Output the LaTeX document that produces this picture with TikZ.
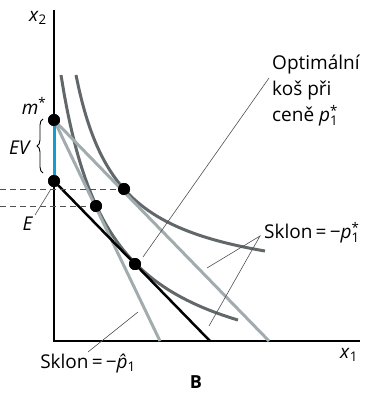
\documentclass[tikz,border=0pt]{standalone}
\usepackage{fontspec}
\setmainfont{Open Sans}
\usetikzlibrary{decorations.pathreplacing}
\definecolor{icdark}{RGB}{98,104,106}
\definecolor{bllight}{RGB}{162,172,174}
\definecolor{evblue}{RGB}{20,158,205}
\definecolor{leadgray}{RGB}{80,80,80}
\newcommand{\pstar}{\textit{p}\rlap{\textsuperscript{*}}\textsubscript{1}}
\newcommand{\phat}{\textit{\rlap{\hspace{0.06em}ˆ}p}\textsubscript{1}}
\begin{document}
\begin{tikzpicture}[x=1pt,y=-1pt,
  axisline/.style={line width=2pt,line join=miter},
  icurve/.style={draw=icdark,line width=3pt},
  budget/.style={draw=bllight,line width=3pt},
  blackbudget/.style={draw=black,line width=2.5pt},
  leader/.style={draw=leadgray,line width=0.6pt},
  guide/.style={draw=leadgray,line width=0.9pt,dash pattern=on 6pt off 4pt},
  dot/.style={circle,fill=black,inner sep=0pt,minimum size=12pt},
  lbl/.style={font=\fontsize{19}{26}\selectfont,inner sep=0pt},
]
\useasboundingbox (0,0) rectangle (367,396);
% axes
\coordinate (ytop) at (54,10);
\coordinate (O) at (54,341);
\coordinate (xend) at (360,341);
\draw[axisline] (ytop) -- (O) -- (xend);
% indifference curves
\draw[icurve,domain=61:238,samples=60,smooth] plot (\x,{388.3-15444/(\x-11.7)});
\draw[icurve,domain=76:265,samples=60,smooth] plot (\x,{291-9274/(\x-33.06)});
% dots
\node[dot] (dm) at (54,120) {};
\node[dot] (dE) at (54,181) {};
\node[dot] (dA) at (124,189) {};
\node[dot] (dB) at (96,206) {};
\node[dot] (dC) at (135,264) {};
% budget line ends
\coordinate (bShallow) at (269,341);
\coordinate (bSteep) at (160,341);
\coordinate (bBlack) at (210,341);
\draw[budget] (dm.center) -- (bShallow);
\draw[budget] (dm.center) -- (bSteep);
\draw[blackbudget] (dE.center) -- (bBlack);
\draw[evblue,line width=3pt] (dm.center) -- (dE.center);
% dashed guides
\coordinate (gA) at (0,189);
\coordinate (gB) at (0,206);
\draw[guide] (gA) -- (dA.center);
\draw[guide] (gB) -- (dB.center);
% dots on top
\foreach \p in {dm,dE,dA,dB,dC}
  \fill (\p.center) circle (6pt);
% brace
\coordinate (brB) at (43,173);
\coordinate (brT) at (43,119);
\draw[line width=0.9pt,decorate,decoration={brace,amplitude=6pt}] (brB) -- (brT);
% labels
\node[lbl] (x2l) at (38,18) {\textit{x}\textsubscript{2}};
\node[lbl] (x1l) at (349,355) {\textit{x}\textsubscript{1}};
\node[lbl] (ml) at (34,106) {\textit{m}\textsuperscript{*}};
\node[lbl] (evl) at (20,148) {\textit{EV}};
\node[lbl] (el) at (28,224) {\textit{E}};
\node[lbl,font=\fontsize{18}{20}\selectfont\bfseries] (bl) at (196,382) {B};
\node[lbl,anchor=north west,align=left] (optl) at (272,55) {Optimální\\koš při\\ceně \pstar};
\node[lbl,anchor=west] (s1) at (264,233) {Sklon\,=\,−\pstar};
\node[lbl] (s2) at (88,363) {Sklon\,=\,−\phat};
% leaders
\coordinate (eL1) at (35,215);
\coordinate (eL2) at (51,189);
\draw[leader] (eL1) -- (eL2);
\coordinate (oL1) at (269,78);
\coordinate (oL2) at (143,257);
\draw[leader] (oL1) -- (oL2);
\coordinate (s1a) at (260,236);
\coordinate (s1b) at (207,268);
\coordinate (s1c) at (209,326);
\draw[leader] (s1b) -- (s1a) -- (s1c);
\coordinate (s2a) at (88,352);
\coordinate (s2b) at (138,312);
\draw[leader] (s2a) -- (s2b);
\end{tikzpicture}
\end{document}
